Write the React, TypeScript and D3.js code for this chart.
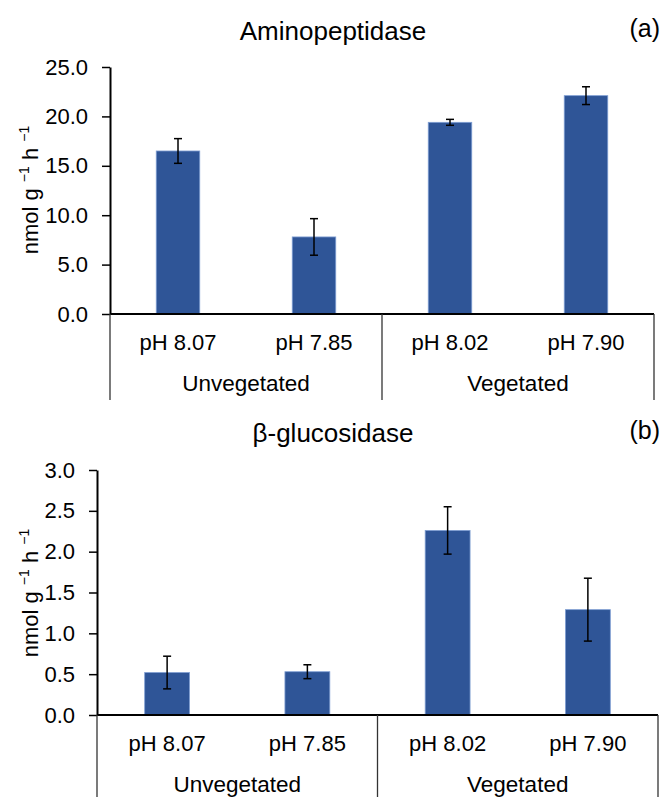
import React, { useEffect, useRef } from 'react'
import * as d3 from 'd3'

// treatments along the x axis, two per group
const categories = ['pH 8.07', 'pH 7.85', 'pH 8.02', 'pH 7.90']
const groups = ['Unvegetated', 'Vegetated']

// (a) aminopeptidase, nmol g-1 h-1
const aminoValues = [16.5, 7.8, 19.4, 22.1]
const aminoErrors = [1.25, 1.85, 0.3, 0.9]
const aminoTicks = [0, 5, 10, 15, 20, 25]

// (b) beta-glucosidase, nmol g-1 h-1
const glucoValues = [0.52, 0.53, 2.26, 1.29]
const glucoErrors = [0.2, 0.085, 0.29, 0.385]
const glucoTicks = [0, 0.5, 1, 1.5, 2, 2.5, 3]

const FONT = '"Liberation Sans", Arial, sans-serif'
const BAR = '#2f5597'

const drawPanel = (svg, opts) => {
  const { title, tag, values, errors, ticks, left, right, top, base, bottom, titleY, labelY } = opts
  const g = svg.append('g')

  const x = d3
    .scaleBand()
    .domain(categories)
    .range([left, right])
    .paddingInner(0.68)
    .paddingOuter(0.34)

  const y = d3
    .scaleLinear()
    .domain([0, d3.max(ticks)])
    .range([base, top])

  // bars
  g.selectAll('rect.bar')
    .data(values)
    .join('rect')
    .attr('class', 'bar')
    .attr('x', (d, i) => x(categories[i]))
    .attr('width', x.bandwidth())
    .attr('y', (d) => y(d))
    .attr('height', (d) => base - y(d))
    .attr('fill', BAR)
    .attr('stroke', '#7f9ed3')
    .attr('stroke-width', 0.8)

  // error bars
  const eb = g
    .selectAll('g.err')
    .data(values)
    .join('g')
    .attr('class', 'err')
    .attr('stroke', '#000')
    .attr('stroke-width', 1.5)
  const cx = (i) => x(categories[i]) + x.bandwidth() / 2
  eb.append('line')
    .attr('x1', (d, i) => cx(i))
    .attr('x2', (d, i) => cx(i))
    .attr('y1', (d, i) => y(d + errors[i]))
    .attr('y2', (d, i) => y(d - errors[i]))
  eb.append('line')
    .attr('x1', (d, i) => cx(i) - 4)
    .attr('x2', (d, i) => cx(i) + 4)
    .attr('y1', (d, i) => y(d + errors[i]))
    .attr('y2', (d, i) => y(d + errors[i]))
  eb.append('line')
    .attr('x1', (d, i) => cx(i) - 4)
    .attr('x2', (d, i) => cx(i) + 4)
    .attr('y1', (d, i) => y(d - errors[i]))
    .attr('y2', (d, i) => y(d - errors[i]))

  // y axis
  const axis = d3
    .axisLeft(y)
    .tickValues(ticks)
    .tickFormat(d3.format('.1f'))
    .tickSize(8)
    .tickPadding(14)
    .tickSizeOuter(0)
  g.append('g')
    .attr('transform', `translate(${left},0)`)
    .call(axis)
    .call((a) => a.select('.domain').attr('stroke-width', 2))
    .call((a) => a.selectAll('.tick line').attr('stroke-width', 1.5))
    .call((a) =>
      a.selectAll('.tick text').attr('font-size', 22).attr('font-family', FONT).attr('fill', '#000'),
    )

  // category axis baseline and group separators
  g.append('line')
    .attr('x1', left)
    .attr('x2', right)
    .attr('y1', base)
    .attr('y2', base)
    .attr('stroke', '#000')
    .attr('stroke-width', 2)

  const step = x.step()
  const seps = [left, left + step * 2, right]
  g.selectAll('line.sep')
    .data(seps)
    .join('line')
    .attr('class', 'sep')
    .attr('x1', (d) => d)
    .attr('x2', (d) => d)
    .attr('y1', base)
    .attr('y2', bottom)
    .attr('stroke', '#333')
    .attr('stroke-width', 1.3)

  g.selectAll('text.cat')
    .data(categories)
    .join('text')
    .attr('class', 'cat')
    .attr('x', (d) => x(d) + x.bandwidth() / 2)
    .attr('y', base + 36)
    .attr('text-anchor', 'middle')
    .attr('font-size', 22)
    .attr('font-family', FONT)
    .text((d) => d)

  g.selectAll('text.grp')
    .data(groups)
    .join('text')
    .attr('class', 'grp')
    .attr('x', (d, i) => left + step * (i * 2 + 1))
    .attr('y', base + 77)
    .attr('text-anchor', 'middle')
    .attr('font-size', 22.5)
    .attr('font-family', FONT)
    .text((d) => d)

  // title and panel tag
  g.append('text')
    .attr('x', 333)
    .attr('y', titleY)
    .attr('text-anchor', 'middle')
    .attr('font-size', 26)
    .attr('font-family', FONT)
    .text(title)

  g.append('text')
    .attr('x', 660)
    .attr('y', titleY - 3)
    .attr('text-anchor', 'end')
    .attr('font-size', 25)
    .attr('font-family', FONT)
    .text(tag)

  // y label with superscripts
  const lab = g
    .append('text')
    .attr('transform', `translate(30,${labelY}) rotate(-90)`)
    .attr('text-anchor', 'middle')
    .attr('dy', '0.35em')
    .attr('font-size', 22)
    .attr('font-family', FONT)
  lab.append('tspan').text('nmol g ')
  lab.append('tspan').attr('font-size', 14).attr('dy', -9).text('\u22121')
  lab.append('tspan').attr('dy', 9).text(' h ')
  lab.append('tspan').attr('font-size', 14).attr('dy', -9).text('\u22121')
}

const App = () => {
  const svgRef = useRef(null)

  useEffect(() => {
    if (!svgRef.current) return
    const svg = d3.select(svgRef.current)
    svg.selectAll('*').remove()

    drawPanel(svg, {
      title: 'Aminopeptidase',
      tag: '(a)',
      values: aminoValues,
      errors: aminoErrors,
      ticks: aminoTicks,
      left: 110,
      right: 654,
      top: 67,
      base: 314,
      bottom: 400,
      titleY: 40,
      labelY: 190,
    })

    drawPanel(svg, {
      title: '\u03b2-glucosidase',
      tag: '(b)',
      values: glucoValues,
      errors: glucoErrors,
      ticks: glucoTicks,
      left: 97,
      right: 658,
      top: 470,
      base: 715,
      bottom: 797,
      titleY: 442,
      labelY: 593,
    })
  }, [])

  return (
    <svg
      ref={svgRef}
      width={665}
      height={797}
      style={{ position: 'absolute', left: 0, top: 0, background: '#fff' }}
    ></svg>
  )
}

export default App
